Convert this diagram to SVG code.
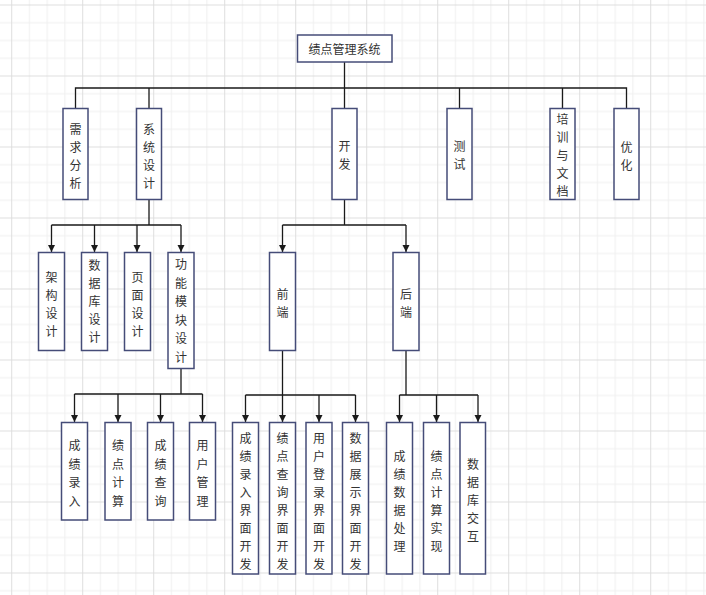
<svg xmlns="http://www.w3.org/2000/svg" width="706" height="595" viewBox="0 0 706 595">
<defs>
<pattern id="grid" patternUnits="userSpaceOnUse" x="11.2" y="4.5" width="71" height="71">
<path d="M18.25 0V71M36 0V71M53.75 0V71M0 18.25H71M0 36H71M0 53.75H71" stroke="#efefef" stroke-width="1" fill="none"/>
<path d="M0.5 0V71M0 0.5H71" stroke="#dedede" stroke-width="1" fill="none"/>
</pattern>
<marker id="arr" markerWidth="8" markerHeight="8" refX="7" refY="4" orient="auto" markerUnits="userSpaceOnUse">
<path d="M0,0.5 L7,4 L0,7.5 Z" fill="#1a1a1a"/>
</marker>
<style>
.box{fill:#ffffff;stroke:#454c78;stroke-width:1.5}
.t{font-family:"Noto Sans CJK SC","Noto Sans",sans-serif;font-size:12px;fill:#333333;text-anchor:middle;dominant-baseline:central}
.c{fill:none;stroke:#1a1a1a;stroke-width:1.3}
.a{fill:none;stroke:#1a1a1a;stroke-width:1.3;marker-end:url(#arr)}
</style>
</defs>
<rect x="0" y="0" width="706" height="595" fill="#ffffff"/>
<rect x="0" y="0" width="706" height="595" fill="url(#grid)"/>

<g id="connectors">
<path class="c" d="M344.5 62V88M75.5 108.5V88H626.5V108.5M149 88V108.5M344.5 88V108.5M459.5 88V108.5M562.5 88V108.5"/>
<path class="c" d="M149 199.5V225M51.5 225H181"/>
<path class="a" d="M51.5 225V252"/>
<path class="a" d="M94.5 225V252"/>
<path class="a" d="M137 225V252"/>
<path class="a" d="M181 225V252"/>
<path class="c" d="M344.5 199.5V225M282.5 225H406"/>
<path class="a" d="M282.5 225V252"/>
<path class="a" d="M406 225V252"/>
<path class="c" d="M181 368.5V394M74.5 394H202.5"/>
<path class="a" d="M74.5 394V422"/>
<path class="a" d="M118 394V422"/>
<path class="a" d="M160.5 394V422"/>
<path class="a" d="M202.5 394V422"/>
<path class="c" d="M282.5 350.5V395M245.5 395H355.5"/>
<path class="a" d="M245.5 395V422"/>
<path class="a" d="M282.5 395V422"/>
<path class="a" d="M319 395V422"/>
<path class="a" d="M355.5 395V422"/>
<path class="c" d="M406 350.5V395M399.5 395H478"/>
<path class="a" d="M399.5 395V422"/>
<path class="a" d="M436.5 395V422"/>
<path class="a" d="M478 395V422"/>
</g>

<g id="root">
<rect class="box" x="297.5" y="35" width="94.5" height="27"/>
<text class="t" x="344.5" y="48.5">绩点管理系统</text>
</g>

<g id="n_xuqiu">
<rect class="box" x="63" y="108.5" width="25" height="91"/>
<text class="t" x="75.5"><tspan x="75.5" y="128">需</tspan><tspan x="75.5" y="146">求</tspan><tspan x="75.5" y="164">分</tspan><tspan x="75.5" y="182">析</tspan></text>
</g>
<g id="n_xitongsheji">
<rect class="box" x="136.5" y="108.5" width="25" height="91"/>
<text class="t" x="149"><tspan x="149" y="128">系</tspan><tspan x="149" y="146">统</tspan><tspan x="149" y="164">设</tspan><tspan x="149" y="182">计</tspan></text>
</g>
<g id="n_kaifa">
<rect class="box" x="332" y="108.5" width="25" height="91"/>
<text class="t" x="344.5"><tspan x="344.5" y="145">开</tspan><tspan x="344.5" y="163">发</tspan></text>
</g>
<g id="n_ceshi">
<rect class="box" x="447" y="108.5" width="25" height="91"/>
<text class="t" x="459.5"><tspan x="459.5" y="145">测</tspan><tspan x="459.5" y="163">试</tspan></text>
</g>
<g id="n_peixun">
<rect class="box" x="550" y="108.5" width="25" height="91"/>
<text class="t" x="562.5"><tspan x="562.5" y="118">培</tspan><tspan x="562.5" y="136">训</tspan><tspan x="562.5" y="154">与</tspan><tspan x="562.5" y="172">文</tspan><tspan x="562.5" y="190">档</tspan></text>
</g>
<g id="n_youhua">
<rect class="box" x="614" y="108.5" width="25" height="91"/>
<text class="t" x="626.5"><tspan x="626.5" y="146">优</tspan><tspan x="626.5" y="164">化</tspan></text>
</g>

<g id="n_jiagou">
<rect class="box" x="38.5" y="252.5" width="26" height="98"/>
<text class="t" x="51.5"><tspan x="51.5" y="276">架</tspan><tspan x="51.5" y="294">构</tspan><tspan x="51.5" y="312">设</tspan><tspan x="51.5" y="330">计</tspan></text>
</g>
<g id="n_shujuku">
<rect class="box" x="81.5" y="252.5" width="26" height="98"/>
<text class="t" x="94.5"><tspan x="94.5" y="264">数</tspan><tspan x="94.5" y="282">据</tspan><tspan x="94.5" y="300">库</tspan><tspan x="94.5" y="318">设</tspan><tspan x="94.5" y="336">计</tspan></text>
</g>
<g id="n_yemian">
<rect class="box" x="124.5" y="252.5" width="26" height="98"/>
<text class="t" x="137.5"><tspan x="137.5" y="276">页</tspan><tspan x="137.5" y="294">面</tspan><tspan x="137.5" y="312">设</tspan><tspan x="137.5" y="330">计</tspan></text>
</g>
<g id="n_gongneng">
<rect class="box" x="168" y="252.5" width="26" height="116"/>
<text class="t" x="181"><tspan x="181" y="263">功</tspan><tspan x="181" y="281.5">能</tspan><tspan x="181" y="300">模</tspan><tspan x="181" y="318.5">块</tspan><tspan x="181" y="337">设</tspan><tspan x="181" y="355.5">计</tspan></text>
</g>

<g id="n_qianduan">
<rect class="box" x="269.5" y="252.5" width="26" height="98"/>
<text class="t" x="282.5"><tspan x="282.5" y="293">前</tspan><tspan x="282.5" y="311">端</tspan></text>
</g>
<g id="n_houduan">
<rect class="box" x="393" y="252.5" width="26" height="98"/>
<text class="t" x="406"><tspan x="406" y="293">后</tspan><tspan x="406" y="311">端</tspan></text>
</g>

<g id="n_chengjiluru">
<rect class="box" x="61.5" y="422.5" width="26" height="97.5"/>
<text class="t" x="74.5"><tspan x="74.5" y="444">成</tspan><tspan x="74.5" y="462.5">绩</tspan><tspan x="74.5" y="481">录</tspan><tspan x="74.5" y="499.5">入</tspan></text>
</g>
<g id="n_jidianjisuan">
<rect class="box" x="105" y="422.5" width="26" height="97.5"/>
<text class="t" x="118"><tspan x="118" y="444">绩</tspan><tspan x="118" y="462.5">点</tspan><tspan x="118" y="481">计</tspan><tspan x="118" y="499.5">算</tspan></text>
</g>
<g id="n_chengjichaxun">
<rect class="box" x="147.5" y="422.5" width="26" height="97.5"/>
<text class="t" x="160.5"><tspan x="160.5" y="444">成</tspan><tspan x="160.5" y="462.5">绩</tspan><tspan x="160.5" y="481">查</tspan><tspan x="160.5" y="499.5">询</tspan></text>
</g>
<g id="n_yonghuguanli">
<rect class="box" x="189.5" y="422.5" width="26" height="97.5"/>
<text class="t" x="202.5"><tspan x="202.5" y="444">用</tspan><tspan x="202.5" y="462.5">户</tspan><tspan x="202.5" y="481">管</tspan><tspan x="202.5" y="499.5">理</tspan></text>
</g>

<g id="n_luru_ui">
<rect class="box" x="232.5" y="422.5" width="26" height="151.5"/>
<text class="t" x="245.5"><tspan x="245.5" y="436.5">成</tspan><tspan x="245.5" y="454.5">绩</tspan><tspan x="245.5" y="472.5">录</tspan><tspan x="245.5" y="490.5">入</tspan><tspan x="245.5" y="508.5">界</tspan><tspan x="245.5" y="526.5">面</tspan><tspan x="245.5" y="544.5">开</tspan><tspan x="245.5" y="562.5">发</tspan></text>
</g>
<g id="n_chaxun_ui">
<rect class="box" x="269.5" y="422.5" width="26" height="151.5"/>
<text class="t" x="282.5"><tspan x="282.5" y="436.5">绩</tspan><tspan x="282.5" y="454.5">点</tspan><tspan x="282.5" y="472.5">查</tspan><tspan x="282.5" y="490.5">询</tspan><tspan x="282.5" y="508.5">界</tspan><tspan x="282.5" y="526.5">面</tspan><tspan x="282.5" y="544.5">开</tspan><tspan x="282.5" y="562.5">发</tspan></text>
</g>
<g id="n_denglu_ui">
<rect class="box" x="306" y="422.5" width="26" height="151.5"/>
<text class="t" x="319"><tspan x="319" y="436.5">用</tspan><tspan x="319" y="454.5">户</tspan><tspan x="319" y="472.5">登</tspan><tspan x="319" y="490.5">录</tspan><tspan x="319" y="508.5">界</tspan><tspan x="319" y="526.5">面</tspan><tspan x="319" y="544.5">开</tspan><tspan x="319" y="562.5">发</tspan></text>
</g>
<g id="n_zhanshi_ui">
<rect class="box" x="342.5" y="422.5" width="26" height="151.5"/>
<text class="t" x="355.5"><tspan x="355.5" y="436.5">数</tspan><tspan x="355.5" y="454.5">据</tspan><tspan x="355.5" y="472.5">展</tspan><tspan x="355.5" y="490.5">示</tspan><tspan x="355.5" y="508.5">界</tspan><tspan x="355.5" y="526.5">面</tspan><tspan x="355.5" y="544.5">开</tspan><tspan x="355.5" y="562.5">发</tspan></text>
</g>

<g id="n_shujuchuli">
<rect class="box" x="386.5" y="422.5" width="26" height="151.5"/>
<text class="t" x="399.5"><tspan x="399.5" y="454.5">成</tspan><tspan x="399.5" y="472.5">绩</tspan><tspan x="399.5" y="490.5">数</tspan><tspan x="399.5" y="508.5">据</tspan><tspan x="399.5" y="526.5">处</tspan><tspan x="399.5" y="544.5">理</tspan></text>
</g>
<g id="n_jisuanshixian">
<rect class="box" x="423.5" y="422.5" width="26" height="151.5"/>
<text class="t" x="436.5"><tspan x="436.5" y="454.5">绩</tspan><tspan x="436.5" y="472.5">点</tspan><tspan x="436.5" y="490.5">计</tspan><tspan x="436.5" y="508.5">算</tspan><tspan x="436.5" y="526.5">实</tspan><tspan x="436.5" y="544.5">现</tspan></text>
</g>
<g id="n_shujukujiaohu">
<rect class="box" x="460" y="422.5" width="25.5" height="151.5"/>
<text class="t" x="473"><tspan x="473" y="463">数</tspan><tspan x="473" y="481">据</tspan><tspan x="473" y="499">库</tspan><tspan x="473" y="517">交</tspan><tspan x="473" y="535">互</tspan></text>
</g>
</svg>
